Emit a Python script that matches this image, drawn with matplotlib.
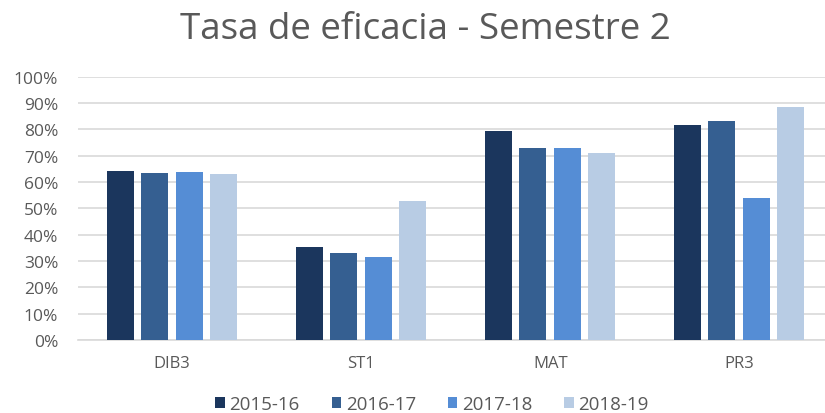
import matplotlib
matplotlib.use("Agg")
import matplotlib.pyplot as plt
from matplotlib.ticker import PercentFormatter
import numpy as np

plt.rcParams['font.family'] = ['Open Sans', 'DejaVu Sans']

categories = ["DIB3", "ST1", "MAT", "PR3"]
series = ["2015-16", "2016-17", "2017-18", "2018-19"]
v2015 = [64.3, 35.4, 79.3, 81.8]
v2016 = [63.5, 33.2, 72.8, 83.2]
v2017 = [63.9, 31.4, 72.8, 53.9]
v2018 = [62.9, 52.8, 71.0, 88.5]
values = [v2015, v2016, v2017, v2018]
colors = ['#1b365d', '#355f91', '#558dd5', '#b8cce4']
text_color = '#595959'

fig = plt.figure(figsize=(8.25, 4.14), dpi=100)
ax = fig.add_axes([77.7/825, 73/414, 756/825, 263.3/414])

x = np.arange(len(categories))
step = 0.1825
width = 0.143
for i, (name, vals) in enumerate(zip(series, values)):
    ax.bar(x + (i - 1.5) * step, vals, width, color=colors[i], label=name, zorder=3)

ax.set_xlim(-0.5, 3.5)
ax.set_ylim(0, 100)
ax.set_yticks(np.arange(0, 101, 10))
ax.yaxis.set_major_formatter(PercentFormatter(decimals=0))
ax.grid(axis='y', color='#d9d9d9', linewidth=1.2, zorder=0)
for s in ['top', 'right', 'left']:
    ax.spines[s].set_visible(False)
ax.spines['bottom'].set_color('#d9d9d9')
ax.spines['bottom'].set_linewidth(1.2)
ax.set_xticks(x)
ax.set_xticklabels(categories)
ax.tick_params(axis='both', length=0, colors=text_color)
ax.tick_params(axis='x', pad=11, labelsize=12)
ax.tick_params(axis='y', pad=14, labelsize=12.5)

fig.text(0.515, 0.927, "Tasa de eficacia - Semestre 2", ha='center', va='center',
         fontsize=26.5, color=text_color)

leg = fig.legend(loc='center', bbox_to_anchor=(432/825, 1 - 405/414), ncol=4,
                 frameon=False, fontsize=13.5, handlelength=0.5, handleheight=0.5,
                 columnspacing=1.7, handletextpad=0.25)
for t in leg.get_texts():
    t.set_color(text_color)

fig.savefig("out.png", dpi=100)
